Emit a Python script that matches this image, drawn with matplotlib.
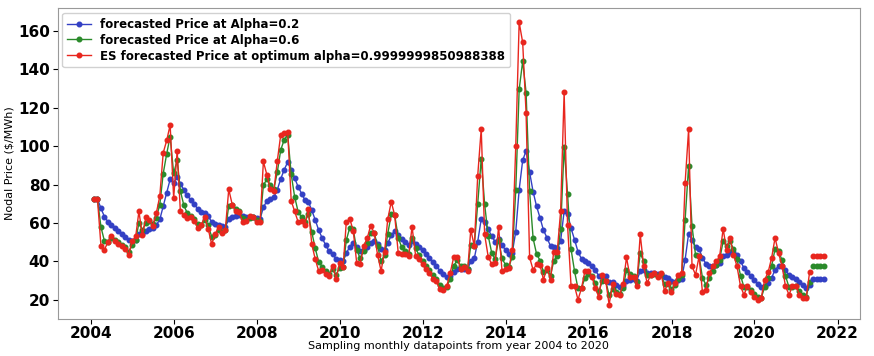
import matplotlib
matplotlib.use("Agg")
import matplotlib.pyplot as plt
import matplotlib.dates as mdates
import pandas as pd

# ES forecast at alpha ~ 1 (same as previous month's actual price)
price_es = [72.5, 72.5, 48, 46, 50, 53, 50.5, 49, 48, 46.5, 43.5, 50.5, 53, 66, 53.5, 63, 61.5, 58.5, 65, 74,
            96.5, 103, 111, 73, 97.5, 66, 64, 62.5, 63, 61, 57.5, 59, 63, 57, 49, 54, 58, 55, 56.5, 77.5,
            69.5, 66, 65.5, 60.5, 61, 63.5, 63, 60.5, 60.5, 92, 85, 77.5, 76.5, 92, 106, 107, 107.5, 71.5, 66, 60.5,
            61, 59, 67, 49, 41, 35, 35.5, 33.5, 32.5, 37.5, 31, 39, 37, 60.5, 62, 56, 39, 38.5, 48, 52,
            58.5, 55, 43.5, 35, 45, 62, 71, 64, 44.5, 44, 44, 43, 58, 43, 41, 38.5, 36, 34, 31, 29.5,
            25.5, 25, 27, 34, 42, 42.5, 36, 37, 35, 56.5, 48, 84.5, 109, 54, 42.5, 38.5, 39, 58, 35, 36,
            36.5, 46, 100, 164.5, 154, 117, 42, 35.5, 38.5, 38, 30.5, 36.5, 30.5, 45, 45, 66, 128, 59, 27, 27,
            20, 26, 35, 35, 32, 26, 21.5, 33, 30, 17.5, 28, 23, 22.5, 28, 42, 32, 32, 27, 54, 37.5,
            28.5, 33, 34, 32, 34, 24.4, 28.7, 23.8, 28.7, 33, 34, 80.6, 108.8, 37.4, 33, 42.6, 23.8, 25.2, 34, 37.4,
            40, 42.6, 56.9, 46.1, 52.2, 43.5, 37.4, 27, 22.6, 27, 23.8, 21.5, 20, 20.9, 30.4, 34.3, 41.8, 52.2, 44.4, 37.4,
            27, 22.6, 27, 27, 22.6, 20.9, 20.9, 34.3]

price_a06 = [72.5, 72.5, 57.8, 50.7, 50.3, 51.9, 51.1, 49.8, 48.7, 47.4, 45.1, 48.3, 51.1, 60.0, 56.1, 60.2, 61.0, 59.5, 62.8, 69.5,
             85.7, 96.1, 105.0, 85.8, 92.8, 76.7, 69.1, 65.1, 63.8, 62.1, 59.3, 59.1, 61.4, 58.8, 52.9, 53.6, 56.2, 55.5, 56.1, 68.9,
             69.3, 67.3, 66.2, 62.8, 61.7, 62.8, 62.9, 61.5, 60.9, 79.6, 82.8, 79.6, 77.7, 86.3, 98.1, 103.4, 105.9, 85.3, 73.7, 65.8,
             62.9, 60.6, 64.4, 55.2, 46.7, 39.7, 37.2, 35.0, 33.5, 35.9, 33.0, 36.6, 36.8, 51.0, 57.6, 56.6, 46.0, 41.5, 45.4, 49.4,
             54.9, 55.0, 48.1, 40.2, 43.1, 54.4, 64.4, 64.2, 52.4, 47.4, 45.4, 44.0, 52.4, 46.8, 43.3, 40.4, 37.8, 35.5, 32.8, 30.8,
             27.6, 26.0, 26.6, 31.0, 37.6, 40.5, 37.8, 37.3, 35.9, 48.3, 48.1, 69.9, 93.4, 69.8, 53.4, 44.5, 41.2, 51.3, 41.5, 38.2,
             37.2, 42.5, 77.0, 129.5, 144.2, 127.9, 76.4, 51.9, 43.9, 40.4, 34.5, 35.7, 32.6, 40.0, 43.0, 56.8, 99.5, 75.2, 46.3, 34.7,
             25.9, 26.0, 31.4, 33.6, 32.6, 28.6, 24.3, 29.5, 29.8, 22.4, 25.8, 24.1, 23.1, 26.0, 35.6, 33.4, 32.6, 29.2, 44.1, 40.1,
             33.1, 33.0, 33.6, 32.6, 33.4, 28.0, 28.4, 25.6, 27.5, 30.8, 32.7, 61.4, 89.8, 58.4, 43.2, 42.8, 31.4, 27.7, 31.5, 35.0,
             38.0, 40.8, 50.5, 47.9, 50.5, 46.3, 41.0, 32.6, 26.6, 26.8, 25.0, 22.9, 21.2, 21.0, 26.6, 31.2, 37.6, 46.4, 45.2, 40.5,
             32.4, 26.5, 26.8, 26.9, 24.3, 22.3, 21.5, 29.2]

price_a02 = [72.5, 72.5, 67.6, 63.3, 60.6, 59.1, 57.4, 55.7, 54.2, 52.7, 50.9, 50.8, 51.2, 54.2, 54.1, 55.9, 57.0, 57.3, 58.8, 61.8,
             68.7, 75.6, 82.7, 80.8, 84.1, 80.5, 77.2, 74.3, 72.0, 69.8, 67.3, 65.6, 65.1, 63.5, 60.6, 59.3, 59.0, 58.2, 57.9, 61.8,
             63.3, 63.8, 64.1, 63.4, 62.9, 63.0, 63.0, 62.5, 62.1, 68.1, 71.5, 72.7, 73.5, 77.2, 83.0, 87.8, 91.7, 87.7, 83.4, 78.8,
             75.2, 72.0, 71.0, 66.6, 61.5, 56.2, 52.1, 48.4, 45.2, 43.7, 41.2, 40.8, 40.0, 44.1, 47.7, 49.4, 47.3, 45.5, 46.0, 47.2,
             49.5, 50.6, 49.2, 46.4, 46.1, 49.3, 53.6, 55.7, 53.5, 51.6, 50.1, 48.7, 50.6, 49.1, 47.5, 45.7, 43.8, 41.8, 39.6, 37.6,
             35.2, 33.2, 32.0, 32.4, 34.3, 35.9, 35.9, 36.1, 35.9, 40.0, 41.6, 50.2, 62.0, 60.4, 56.8, 53.1, 50.3, 51.8, 48.4, 45.9,
             44.0, 44.4, 55.5, 77.3, 92.6, 97.5, 86.4, 76.2, 68.7, 62.6, 56.2, 52.3, 47.9, 47.3, 46.8, 50.6, 66.1, 64.7, 57.2, 51.2,
             45.0, 41.2, 40.0, 39.0, 37.6, 35.3, 32.5, 32.6, 32.1, 29.2, 29.0, 27.8, 26.7, 27.0, 30.0, 30.4, 30.7, 30.0, 34.8, 35.3,
             33.9, 33.7, 33.8, 33.4, 33.5, 31.7, 31.1, 29.6, 29.4, 30.1, 30.9, 40.8, 54.4, 51.0, 47.4, 46.4, 41.9, 38.6, 37.7, 37.6,
             38.1, 39.0, 42.6, 43.3, 45.1, 44.8, 43.3, 40.0, 36.5, 34.6, 32.4, 30.2, 28.2, 26.7, 27.4, 28.8, 31.4, 35.6, 37.4, 37.4,
             35.3, 32.8, 31.6, 30.7, 29.1, 27.5, 26.2, 27.8]

# flat forecasts for the following months
future_es = [43, 43, 43, 43]
future_a06 = [37.5, 37.5, 37.5, 37.5]
future_a02 = [30.8, 30.8, 30.8, 30.8]

dates = pd.date_range("2004-01-31", periods=len(price_es), freq="ME")
fdates = pd.date_range(dates[-1] + pd.offsets.MonthEnd(1), periods=len(future_es), freq="ME")

fig = plt.figure(figsize=(8.74, 3.56), dpi=100)
ax = fig.add_axes([0.066, 0.105, 0.918, 0.872])

ms = 3.3
lw = 1.0
blue = "#3340c4"
green = "#2a8a2a"
red = "#e8261e"
ax.plot(dates, price_a02, color=blue, marker="o", ms=ms, lw=lw, label="forecasted Price at Alpha=0.2")
ax.plot(dates, price_a06, color=green, marker="o", ms=ms, lw=lw, label="forecasted Price at Alpha=0.6")
ax.plot(dates, price_es, color=red, marker="o", ms=ms, lw=lw,
        label="ES forecasted Price at optimum alpha=0.9999999850988388")
ax.plot(fdates, future_a02, color=blue, marker="o", ms=ms, lw=lw)
ax.plot(fdates, future_a06, color=green, marker="o", ms=ms, lw=lw)
ax.plot(fdates, future_es, color=red, marker="o", ms=ms, lw=lw)

ax.xaxis.set_major_locator(mdates.YearLocator(2))
ax.xaxis.set_major_formatter(mdates.DateFormatter("%Y"))
ax.set_yticks([20, 40, 60, 80, 100, 120, 140, 160])
ax.tick_params(axis="x", pad=2)
ax.tick_params(axis="y", pad=2)

for lab in ax.get_xticklabels() + ax.get_yticklabels():
    lab.set_fontweight("bold")
    lab.set_fontsize(11)

ax.set_xlabel("Sampling monthly datapoints from year 2004 to 2020", fontsize=8, labelpad=0)
ax.set_ylabel("Nodal Price (\\$/MWh)", fontsize=8, labelpad=3)

for sp in ax.spines.values():
    sp.set_color("#999999")

ax.legend(loc="upper left", prop={"weight": "bold", "size": 8.5}, handlelength=2.0,
          borderaxespad=0.4, labelspacing=0.25, framealpha=0.9)

fig.savefig("out.png", dpi=100)
